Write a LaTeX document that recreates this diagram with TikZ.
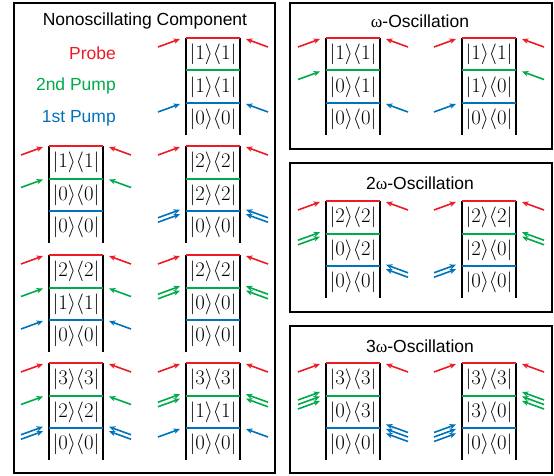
\documentclass[tikz,border=0pt]{standalone}
\usepackage{fontspec}
\setmainfont{Liberation Sans}
\newfontfamily\grk{Liberation Serif}
\usetikzlibrary{arrows.meta}
\definecolor{cred}{RGB}{237,28,36}
\definecolor{cgreen}{RGB}{0,170,75}
\definecolor{cblue}{RGB}{0,114,188}
\tikzset{
  panel/.style={draw=black,line width=2pt},
  level/.style={line width=2pt},
  rail/.style={draw=black,line width=2pt},
  pumparrow/.style={line width=1.6pt,-{Stealth[length=6.5pt,width=5.5pt]}},
  ket/.style={inner sep=0pt,font=\fontsize{21}{23}\selectfont},
  ttl/.style={inner sep=0pt,font=\fontsize{17.5}{20}\selectfont},
}
% #1 name, #2 x, #3 y, #4 #5 #6 labels (top to bottom)
\newcommand\ddiag[6]{%
  \draw[rail] (#2,#3) -- (#2,#3+97);
  \draw[rail] (#2+54,#3) -- (#2+54,#3+97);
  \draw[level,cred] (#2,#3) -- (#2+54,#3);
  \draw[level,cgreen] (#2,#3+32.5) -- (#2+54,#3+32.5);
  \draw[level,cblue] (#2,#3+65) -- (#2+54,#3+65);
  \node[ket] (#1-a) at (#2+27,#3+16.5) {$|#4\rangle\langle #4|$};
  \node[ket] (#1-b) at (#2+27,#3+49) {$|#5\rangle\langle #5|$};
  \node[ket] (#1-c) at (#2+27,#3+81.5) {$|#6\rangle\langle #6|$};
}
% left arrows: #1 x of left rail, #2 y of level, #3 count, #4 colour
\newcommand\arrL[4]{%
  \foreach \k in {1,...,#3}{%
    \draw[pumparrow,#4] ({#1-28},{#2+9+(\k-1)*4.5-(#3-1)*2.25}) -- ++(22,-8);
  }%
}
\newcommand\arrR[4]{%
  \foreach \k in {1,...,#3}{%
    \draw[pumparrow,#4] ({#1+28},{#2+9+(\k-1)*4.5-(#3-1)*2.25}) -- ++(-22,-8);
  }%
}
% general diagram with explicit bra/ket labels
\newcommand\odiag[8]{%
  \draw[rail] (#2,#3) -- (#2,#3+97);
  \draw[rail] (#2+54,#3) -- (#2+54,#3+97);
  \draw[level,cred] (#2,#3) -- (#2+54,#3);
  \draw[level,cgreen] (#2,#3+32.5) -- (#2+54,#3+32.5);
  \draw[level,cblue] (#2,#3+65) -- (#2+54,#3+65);
  \node[ket] (#1-a) at (#2+27,#3+16.5) {$|#4\rangle\langle #4|$};
  \node[ket] (#1-b) at (#2+27,#3+49) {$|#5\rangle\langle #6|$};
  \node[ket] (#1-c) at (#2+27,#3+81.5) {$|#7\rangle\langle #8|$};
}
\begin{document}
\begin{tikzpicture}[x=1pt,y=-1pt]
\useasboundingbox (0,0) rectangle (554,476);
% panels
\draw[panel] (14,3) rectangle (275,473);
\draw[panel] (290,3) rectangle (552,149);
\draw[panel] (290,163) rectangle (552,312);
\draw[panel] (290,326) rectangle (552,473);
% titles
\node[ttl] (t0) at (145,21) {Nonoscillating Component};
\node[ttl] (t1) at (420,21) {{\grk ω}-Oscillation};
\node[ttl] (t2) at (420,183) {2{\grk ω}-Oscillation};
\node[ttl] (t3) at (420,346) {3{\grk ω}-Oscillation};
% legend
\node[ttl,anchor=east,text=cred] (lp) at (116,53) {Probe};
\node[ttl,anchor=east,text=cgreen] (lg) at (116,86) {2nd Pump};
\node[ttl,anchor=east,text=cblue] (lb) at (116,118) {1st Pump};
% nonoscillating diagrams
\ddiag{d0}{186}{38}{1}{1}{0}
\arrL{186}{38}{1}{cred}\arrR{240}{38}{1}{cred}
\arrL{186}{103}{1}{cblue}\arrR{240}{103}{1}{cblue}

\ddiag{d1}{49}{146}{1}{0}{0}
\arrL{49}{146}{1}{cred}\arrR{103}{146}{1}{cred}
\arrL{49}{178.5}{1}{cgreen}\arrR{103}{178.5}{1}{cgreen}

\ddiag{d2}{186}{146}{2}{2}{0}
\arrL{186}{146}{1}{cred}\arrR{240}{146}{1}{cred}
\arrL{186}{211}{2}{cblue}\arrR{240}{211}{2}{cblue}

\ddiag{d3}{49}{255}{2}{1}{0}
\arrL{49}{255}{1}{cred}\arrR{103}{255}{1}{cred}
\arrL{49}{287.5}{1}{cgreen}\arrR{103}{287.5}{1}{cgreen}
\arrL{49}{320}{1}{cblue}\arrR{103}{320}{1}{cblue}

\ddiag{d4}{186}{255}{2}{0}{0}
\arrL{186}{255}{1}{cred}\arrR{240}{255}{1}{cred}
\arrL{186}{287.5}{2}{cgreen}\arrR{240}{287.5}{2}{cgreen}

\ddiag{d5}{49}{363}{3}{2}{0}
\arrL{49}{363}{1}{cred}\arrR{103}{363}{1}{cred}
\arrL{49}{395.5}{1}{cgreen}\arrR{103}{395.5}{1}{cgreen}
\arrL{49}{428}{2}{cblue}\arrR{103}{428}{2}{cblue}

\ddiag{d6}{186}{363}{3}{1}{0}
\arrL{186}{363}{1}{cred}\arrR{240}{363}{1}{cred}
\arrL{186}{395.5}{2}{cgreen}\arrR{240}{395.5}{2}{cgreen}
\arrL{186}{428}{1}{cblue}\arrR{240}{428}{1}{cblue}

% omega
\odiag{e1}{326}{38}{1}{0}{1}{0}{0}
\arrL{326}{38}{1}{cred}\arrR{380}{38}{1}{cred}
\arrL{326}{70.5}{1}{cgreen}\arrR{380}{103}{1}{cblue}

\odiag{e2}{462}{38}{1}{1}{0}{0}{0}
\arrL{462}{38}{1}{cred}\arrR{516}{38}{1}{cred}
\arrR{516}{70.5}{1}{cgreen}\arrL{462}{103}{1}{cblue}

% 2 omega
\odiag{f1}{326}{201}{2}{0}{2}{0}{0}
\arrL{326}{201}{1}{cred}\arrR{380}{201}{1}{cred}
\arrL{326}{233.5}{2}{cgreen}\arrR{380}{266}{2}{cblue}

\odiag{f2}{462}{201}{2}{2}{0}{0}{0}
\arrL{462}{201}{1}{cred}\arrR{516}{201}{1}{cred}
\arrR{516}{233.5}{2}{cgreen}\arrL{462}{266}{2}{cblue}

% 3 omega
\odiag{g1}{326}{363}{3}{0}{3}{0}{0}
\arrL{326}{363}{1}{cred}\arrR{380}{363}{1}{cred}
\arrL{326}{395.5}{3}{cgreen}\arrR{380}{428}{3}{cblue}

\odiag{g2}{462}{363}{3}{3}{0}{0}{0}
\arrL{462}{363}{1}{cred}\arrR{516}{363}{1}{cred}
\arrR{516}{395.5}{3}{cgreen}\arrL{462}{428}{3}{cblue}
\end{tikzpicture}
\end{document}
